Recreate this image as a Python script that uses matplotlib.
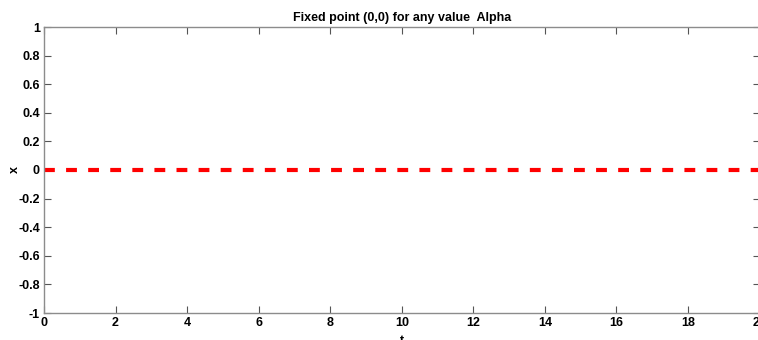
import matplotlib
matplotlib.use("Agg")
import matplotlib.pyplot as plt
import numpy as np

t = [0, 20]
x = [0, 0]
xticks = [0, 2, 4, 6, 8, 10, 12, 14, 16, 18, 20]
yticks = [-1, -0.8, -0.6, -0.4, -0.2, 0, 0.2, 0.4, 0.6, 0.8, 1]
ytick_labels = ["-1", "-0.8", "-0.6", "-0.4", "-0.2", "0", "0.2", "0.4", "0.6", "0.8", "1"]
title = "Fixed point (0,0) for any value  Alpha"

plt.rcParams['font.family'] = ['Liberation Sans', 'DejaVu Sans']
fig = plt.figure(figsize=(7.58, 3.4), dpi=100)
W, H = 758, 340
ax = fig.add_axes([44 / W, 1 - 313 / H, (759.5 - 44) / W, (313 - 27) / H])
ax.plot(t, x, color='#ff0000', linewidth=3, linestyle=(0, (2.6, 2.7)))
ax.set_xlim(0, 20)
ax.set_ylim(-1, 1)
ax.set_xticks(xticks)
ax.set_xticklabels([str(v) for v in xticks])
ax.set_yticks(yticks)
ax.set_yticklabels(ytick_labels)
for s in ax.spines.values():
    s.set_color('#8c8c8c')
    s.set_linewidth(1.0)
ax.tick_params(direction='in', length=5, color='#555555', labelsize=9, pad=3,
               top=True, right=True, width=0.8)
for lab in ax.get_xticklabels() + ax.get_yticklabels():
    lab.set_fontweight('bold')
ax.set_title(title, fontsize=9, fontweight='bold', pad=4)
ax.set_xlabel('t', fontsize=9, fontweight='bold', labelpad=4)
ax.set_ylabel('x', fontsize=9, fontweight='bold')
ax.yaxis.set_label_coords(-0.032, 0.5)
fig.savefig('out.png', dpi=100)
